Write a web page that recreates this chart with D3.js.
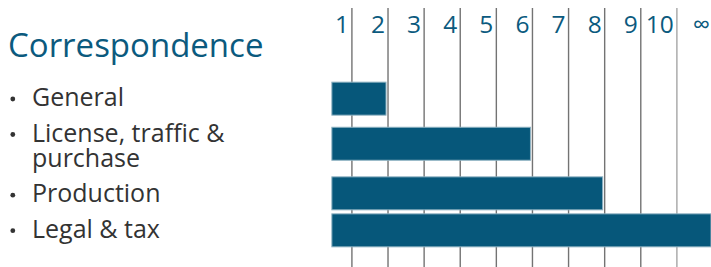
<!DOCTYPE html>
<html>
<head>
<meta charset="utf-8">
<script src="https://cdn.jsdelivr.net/npm/d3@7"></script>
<style>
  html, body { margin: 0; padding: 0; background: #fff; }
  svg { display: block; }
  text { font-family: "Open Sans", "Noto Sans", sans-serif; }
</style>
</head>
<body>
<svg id="chart" width="711" height="267"></svg>
<script>
// ---- data ----
const title = "Correspondence";
const categories = ["General", "License, traffic & purchase", "Production", "Legal & tax"];
const categoryLines = [["General"], ["License, traffic &", "purchase"], ["Production"], ["Legal & tax"]];
const values = [2, 6, 8, 11];          // 11 = ∞
const tickValues = [1, 2, 3, 4, 5, 6, 7, 8, 9, 10, 11];
const tickLabels = ["1", "2", "3", "4", "5", "6", "7", "8", "9", "10", "∞"];
const barBase = 0.5;

// ---- layout ----
const W = 711, H = 267;
const blue = "#0b5a7e";
const barFill = "#06577a";
const svg = d3.select("#chart");

const x = d3.scaleLinear().domain([0, 11]).range([313.8, 711]);
const gridOffset = 2;

// gridlines
svg.append("g").selectAll("line")
  .data(tickValues.slice(0, 10))
  .join("line")
  .attr("x1", d => x(d) + gridOffset)
  .attr("x2", d => x(d) + gridOffset)
  .attr("y1", 8).attr("y2", H)
  .attr("stroke", (d, i) => i === 9 ? "#a6a6a6" : "#737373")
  .attr("stroke-width", 1.4);

// tick labels
svg.append("g").selectAll("text")
  .data(tickValues)
  .join("text")
  .attr("x", d => x(d) + gridOffset - 3)
  .attr("y", 33)
  .attr("text-anchor", "end")
  .attr("fill", blue)
  .attr("font-size", 24.5)
  .text((d, i) => tickLabels[i]);

// title
svg.append("text")
  .attr("x", 8).attr("y", 57)
  .attr("fill", blue)
  .attr("font-size", 33)
  .text(title);

// label layout
const firstBaseline = 106, itemGap = 35.5, lineGap = 25.2, capH = 17.7;
let cursor = firstBaseline;
const rows = categories.map((c, i) => {
  const base = cursor;
  const lines = categoryLines[i];
  const lastBase = base + (lines.length - 1) * lineGap;
  cursor = lastBase + itemGap;
  const center = ((base - capH) + lastBase) / 2;
  return { name: c, lines, base, center, value: values[i] };
});

const barH = 33;
const barShift = [1.5, -1.5, 0, 1.5];
svg.append("g").selectAll("rect")
  .data(rows)
  .join("rect")
  .attr("x", x(barBase))
  .attr("y", (d, i) => d.center + barShift[i] - barH / 2)
  .attr("width", d => x(d.value) - x(barBase))
  .attr("height", barH)
  .attr("fill", barFill)
  .attr("stroke", "#8fb2c2")
  .attr("stroke-width", 1);

// labels
const lab = svg.append("g").selectAll("g").data(rows).join("g");
lab.append("circle")
  .attr("cx", 12.8).attr("cy", d => d.base - 7)
  .attr("r", 2.4)
  .attr("fill", "#333");
lab.each(function(d) {
  const g = d3.select(this);
  d.lines.forEach((ln, j) => {
    g.append("text")
      .attr("fill", "#333").attr("font-size", 25)
      .attr("x", 32).attr("y", d.base + j * lineGap).text(ln);
  });
});
</script>
</body>
</html>
